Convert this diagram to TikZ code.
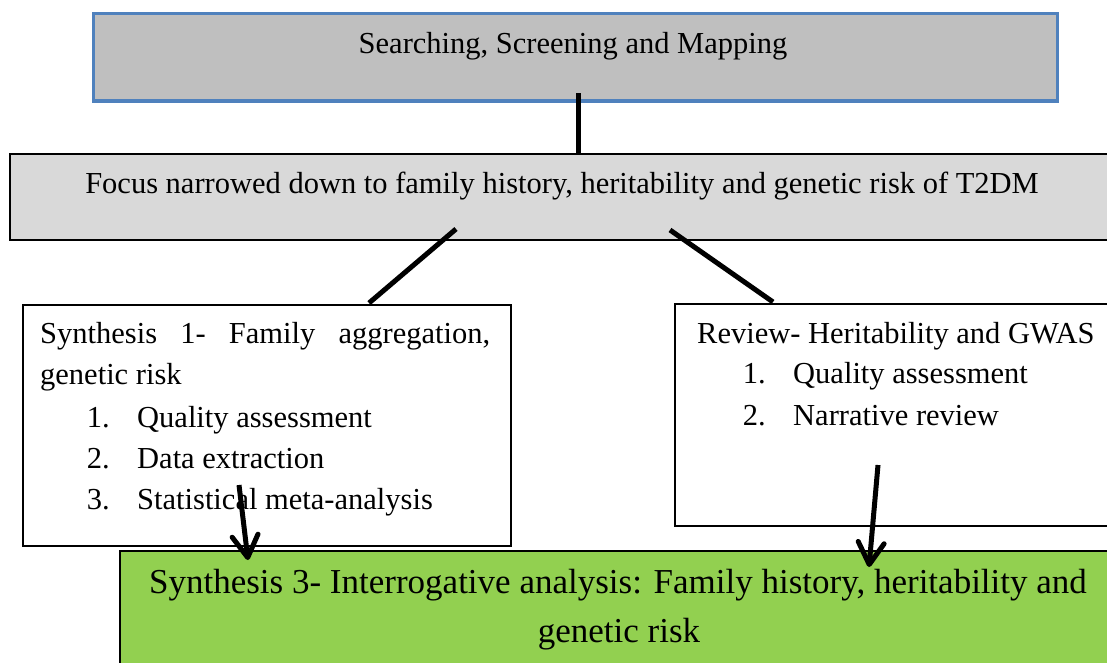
\documentclass[tikz,border=0pt]{standalone}
\usepackage{fontspec}
\setmainfont{Liberation Serif}
\usetikzlibrary{arrows.meta}
\definecolor{topgray}{HTML}{BFBFBF}
\definecolor{topblue}{HTML}{4F81BD}
\definecolor{focusgray}{HTML}{D9D9D9}
\definecolor{syngreen}{HTML}{92D050}
\tikzset{
  box/.style={rectangle, inner sep=0pt, anchor=north west, draw=black, line width=1.6pt},
  txt/.style={inner sep=0pt, font=\fontsize{30.5}{36}\selectfont},
  bigtxt/.style={inner sep=0pt, font=\fontsize{35}{42}\selectfont},
  link/.style={line width=5pt},
  arr/.style={line width=5pt, -{Straight Barb[length=22pt,width=26pt,line cap=round,line join=round]}}
}
\begin{document}
\begin{tikzpicture}[x=1pt,y=-1pt]
\useasboundingbox (0,0) rectangle (1107,662);
\clip (0,0) rectangle (1107,662);
\fill[white] (0,0) rectangle (1107,662);
% boxes
\node[box, draw=topblue, line width=3.5pt, fill=topgray, minimum width=964pt, minimum height=87.5pt] (top) at (91.5,11.5) {};
\node[box, line width=2pt, fill=focusgray, minimum width=1111pt, minimum height=86pt] (focus) at (9,153) {};
\node[box, fill=white, minimum width=488pt, minimum height=241pt] (syn1) at (22,304) {};
\node[box, fill=white, minimum width=446pt, minimum height=222pt] (review) at (674,303) {};
\node[box, fill=syngreen, minimum width=1001pt, minimum height=120pt] (syn3) at (119,550) {};
% texts
\node[txt, anchor=base] (ttop) at (573,53) {Searching, Screening and Mapping};
\node[txt, anchor=base] (tfocus) at (562,193) {Focus narrowed down to family history, heritability and genetic risk of T2DM};
\node[txt, anchor=base west] (s1a) at (40,343) {\makebox[450pt][s]{Synthesis 1- Family aggregation,}};
\node[txt, anchor=base west] (s1b) at (40,384) {genetic risk};
\node[txt, anchor=base east] (n11) at (110,427) {1.};
\node[txt, anchor=base west] (i11) at (137,427) {Quality assessment};
\node[txt, anchor=base east] (n12) at (110,468) {2.};
\node[txt, anchor=base west] (i12) at (137,468) {Data extraction};
\node[txt, anchor=base east] (n13) at (110,509) {3.};
\node[txt, anchor=base west] (i13) at (137,509) {Statistical meta-analysis};
\node[txt, anchor=base west] (ra) at (697,343) {Review- Heritability and GWAS};
\node[txt, anchor=base east] (n21) at (766,383) {1.};
\node[txt, anchor=base west] (i21) at (793,383) {Quality assessment};
\node[txt, anchor=base east] (n22) at (766,425) {2.};
\node[txt, anchor=base west] (i22) at (793,425) {Narrative review};
\node[bigtxt, anchor=base] (g1) at (618,593) {Synthesis 3- Interrogative analysis: Family history, heritability and};
\node[bigtxt, anchor=base] (g2) at (619,642) {genetic risk};
% connector end points
\coordinate (c1a) at (578,93);
\coordinate (c2a) at (456,229);
\coordinate (c2b) at (369,303);
\coordinate (c3a) at (670,230);
\coordinate (c3b) at (773,302);
\coordinate (a1a) at (239,485);
\coordinate (a1b) at (248,560);
\coordinate (a2a) at (878,465);
\coordinate (a2b) at (869,567);
% connectors
\draw[link] (c1a) -- (c1a |- focus.north);
\draw[link] (c2a) -- (c2b);
\draw[link] (c3a) -- (c3b);
\draw[arr] (a1a) -- (a1b);
\draw[arr] (a2a) -- (a2b);
\end{tikzpicture}
\end{document}
